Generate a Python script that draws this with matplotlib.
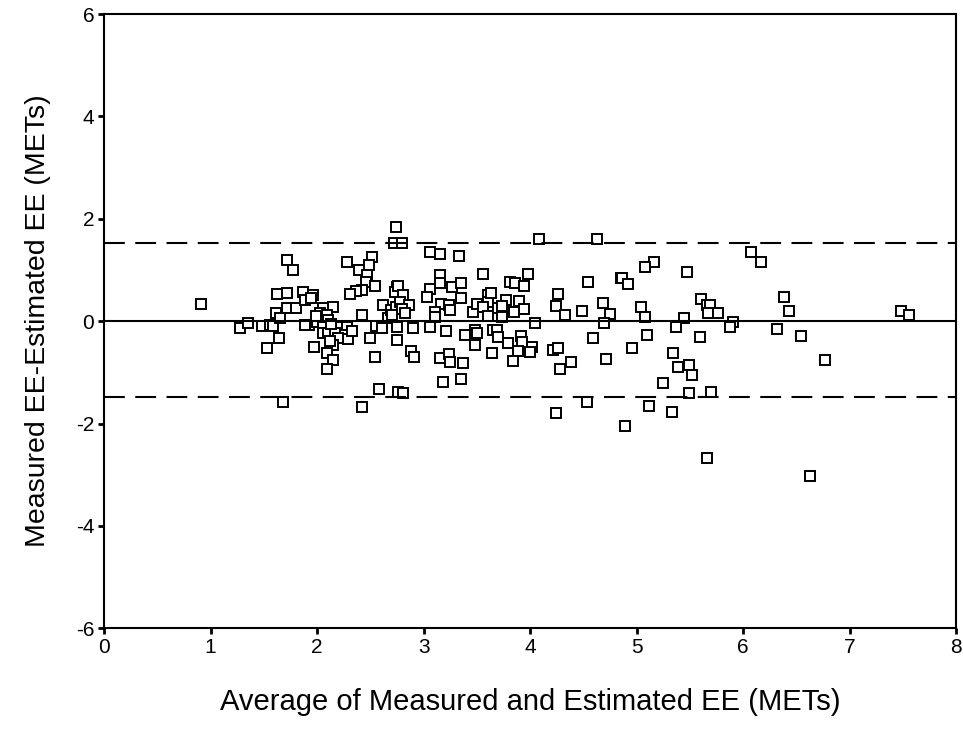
import matplotlib.pyplot as plt
import numpy as np

plt.rcParams['font.family'] = ['Liberation Sans', 'DejaVu Sans']
plt.rcParams['axes.unicode_minus'] = False

# average of measured and estimated EE (METs)
avg = [0.91, 1.28, 1.35, 1.48, 1.56, 1.59, 1.53, 1.64, 1.61, 1.65, 1.62, 1.72,
       1.72, 1.77, 1.72, 1.80, 1.68, 1.87, 1.96, 1.89, 1.94, 2.15, 2.06, 2.03,
       2.09, 2.10, 1.92, 1.89, 2.00, 2.06, 2.22, 2.28, 2.06, 2.10, 2.17, 2.26,
       2.29, 2.20, 2.15, 1.97, 2.09, 2.15, 2.09, 2.28, 2.39, 2.52, 2.49, 2.47,
       2.46, 2.54, 2.42, 2.37, 2.31, 2.42, 2.50, 2.54, 2.58, 2.42, 2.62, 2.55,
       2.61, 2.67, 2.69, 2.74, 2.75, 2.73, 2.75, 2.75, 2.76, 2.74, 2.72, 2.80,
       3.06, 3.15, 3.33, 3.56, 3.15, 3.15, 3.06, 3.03, 3.27, 3.35, 3.35, 2.76,
       2.81, 2.78, 2.86, 2.80, 2.83, 2.70, 3.16, 3.24, 3.25, 3.11, 3.11, 3.46,
       3.50, 3.60, 3.60, 3.56, 3.60, 3.70, 2.90, 3.06, 3.21, 3.39, 3.48, 3.50,
       3.65, 3.69, 3.48, 2.88, 2.91, 3.15, 3.24, 3.25, 3.37, 3.64, 3.18, 3.35,
       2.81, 4.08, 4.63, 3.98, 3.81, 3.86, 3.94, 4.54, 4.85, 4.26, 4.24, 4.33,
       4.49, 4.68, 4.75, 3.77, 3.90, 3.74, 3.94, 3.85, 3.74, 3.63, 4.05, 4.69,
       3.70, 3.79, 3.91, 3.92, 3.89, 3.84, 4.02, 4.00, 4.21, 4.26, 4.38, 4.28,
       4.59, 4.71, 4.53, 4.24, 5.16, 5.08, 5.47, 4.86, 4.92, 5.04, 5.08, 5.60,
       5.66, 5.69, 5.67, 5.76, 5.44, 5.37, 5.90, 5.88, 5.10, 5.59, 4.96, 5.34,
       5.39, 5.49, 5.52, 5.25, 5.49, 5.70, 5.12, 5.33, 4.89, 5.66, 6.07, 6.17,
       6.38, 6.43, 7.48, 7.56, 6.32, 6.54, 6.77, 6.63, 1.99, 2.13, 2.33, 2.12]

# measured EE - estimated EE (METs)
diff = [0.33, -0.14, -0.04, -0.09, -0.08, -0.10, -0.53, -0.33, 0.16, 0.06, 0.53, 0.55,
        1.19, 1.00, 0.25, 0.25, -1.58, 0.57, 0.51, 0.41, 0.45, 0.27, 0.25, 0.16,
        0.12, 0.02, -0.08, -0.08, -0.02, -0.12, -0.12, -0.12, -0.24, -0.24, -0.24, -0.27,
        -0.34, -0.33, -0.47, -0.50, -0.62, -0.75, -0.94, 1.16, 1.00, 1.25, 1.10, 0.90,
        0.77, 0.68, 0.60, 0.59, 0.53, 0.12, -0.33, -0.70, -1.33, -1.68, 0.31, -0.10,
        -0.14, 0.06, 0.21, 0.27, 0.66, 0.57, -0.12, -0.37, -1.39, 1.84, 1.52, 1.52,
        1.35, 1.32, 1.27, 0.92, 0.90, 0.75, 0.62, 0.47, 0.67, 0.75, 0.45, 0.69,
        0.51, 0.37, 0.31, 0.23, 0.16, 0.12, 0.33, 0.31, 0.21, 0.18, 0.08, 0.18,
        0.33, 0.51, 0.37, 0.27, 0.10, 0.25, -0.14, -0.12, -0.20, -0.27, -0.18, -0.23,
        -0.18, -0.18, -0.47, -0.59, -0.70, -0.72, -0.65, -0.80, -0.82, -0.62, -1.19, -1.13,
        -1.41, 1.60, 1.60, 0.92, 0.76, 0.74, 0.68, 0.76, 0.84, 0.53, 0.29, 0.12,
        0.20, 0.35, 0.14, 0.41, 0.39, 0.29, 0.23, 0.18, 0.08, 0.55, -0.04, -0.04,
        -0.31, -0.43, -0.29, -0.41, -0.59, -0.78, -0.51, -0.60, -0.57, -0.53, -0.80, -0.94,
        -0.33, -0.74, -1.58, -1.80, 1.15, 1.05, 0.96, 0.84, 0.72, 0.27, 0.08, 0.43,
        0.31, 0.31, 0.16, 0.16, 0.06, -0.12, -0.02, -0.12, -0.27, -0.31, -0.53, -0.62,
        -0.90, -0.86, -1.06, -1.21, -1.41, -1.39, -1.66, -1.78, -2.05, -2.68, 1.35, 1.16,
        0.47, 0.20, 0.20, 0.12, -0.16, -0.29, -0.76, -3.03, 0.10, -0.05, -0.20, -0.38]

mean_diff = 0.0
upper_loa = 1.52
lower_loa = -1.48

fig = plt.figure(figsize=(9.63, 7.40), dpi=100)
ax = fig.add_axes([0.108, 0.151, 0.885, 0.830])

ax.plot(avg, diff, 's', ms=6.5, mfc='white', mec='black', mew=1.4, ls='none')

ax.axhline(mean_diff, color='black', lw=1.5)
for v in (upper_loa, lower_loa):
    l = ax.axhline(v, color='black', lw=1.5)
    l.set_dashes((10, 5))

ax.set_xlim(0, 8)
ax.set_ylim(-6, 6)
ax.set_xticks(np.arange(0, 9, 1))
ax.set_yticks(np.arange(-6, 7, 2))

for s in ax.spines.values():
    s.set_linewidth(1.5)
ax.tick_params(direction='out', length=4, width=2, labelsize=15, pad=3)

ax.set_xlabel('Average of Measured and Estimated EE (METs)', fontsize=21, labelpad=22)
ax.set_ylabel('Measured EE-Estimated EE (METs)', fontsize=20.5, labelpad=18)

plt.savefig('out.png', dpi=100)
